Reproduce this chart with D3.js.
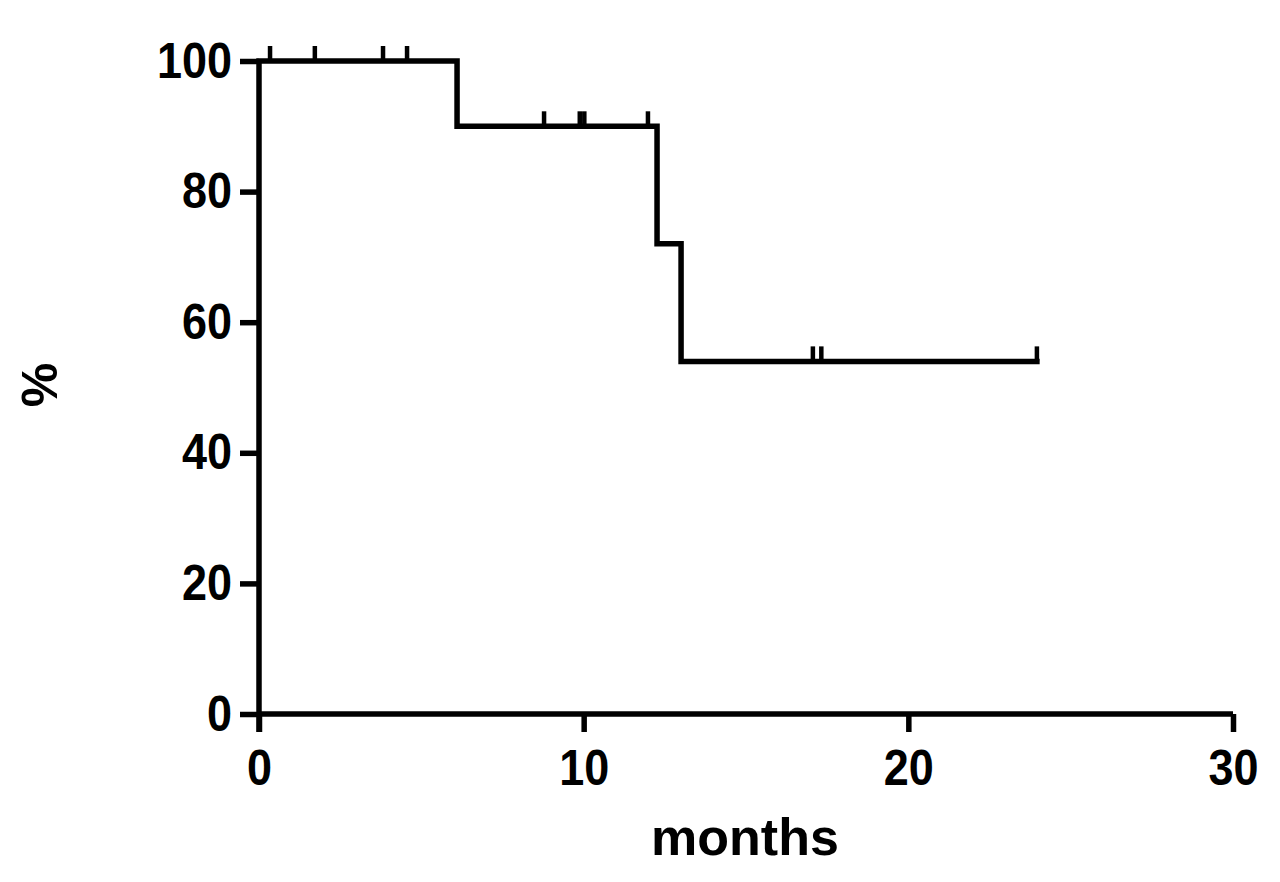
<!DOCTYPE html>
<html><head><meta charset="utf-8">
<script src="https://cdn.jsdelivr.net/npm/d3@7"></script>
<style>body{margin:0;background:#fff}svg{display:block}text{font-family:"Liberation Sans",Arial,sans-serif;font-weight:bold;fill:#000}</style>
</head><body>
<script>
// Kaplan-Meier steps: time (months) and survival (%)
const stepTimes = [0, 6.1, 12.26, 13.0];
const stepValues = [100, 90, 72, 54];
const endTime = 23.96;
// censored observations (months)
const censorTimes = [0.34, 1.72, 3.82, 4.56, 8.78, 9.88, 10.02, 11.98, 17.06, 17.32, 23.96];
const xTicks = [0, 10, 20, 30];
const yTicks = [0, 20, 40, 60, 80, 100];
const xLabel = "months";
const yLabel = "%";

const W = 1280, H = 882;
const svg = d3.select("body").append("svg").attr("width", W).attr("height", H);
const x = d3.scaleLinear().domain([0, 30]).range([259, 1233]);
const y = d3.scaleLinear().domain([0, 100]).range([714, 61]);

function survAt(t){ let v = stepValues[0]; for(let i=0;i<stepTimes.length;i++){ if(t>=stepTimes[i]) v=stepValues[i]; } return v; }

const SW = 5.5;
const tickFont = 45, stretch = 1.1;

// axes
const xAxis = svg.append("g").attr("transform", `translate(0,${y(0)})`)
  .call(d3.axisBottom(x).tickValues(xTicks).tickSize(18).tickSizeOuter(0));
const yAxis = svg.append("g").attr("transform", `translate(${x(0)},0)`)
  .call(d3.axisLeft(y).tickValues(yTicks).tickSize(19).tickSizeOuter(0));
[xAxis, yAxis].forEach(g=>{
  g.select(".domain").attr("stroke","#000").attr("stroke-width",SW);
  g.selectAll(".tick line").attr("stroke","#000").attr("stroke-width",SW);
  g.selectAll(".tick text").attr("font-size",tickFont).attr("font-family","Liberation Sans, Arial, sans-serif").attr("font-weight","bold").attr("fill","#000")
    .attr("x",null).attr("y",null).attr("dy",null);
});
yAxis.select(".domain").attr("d", `M0,${y(100)}V${y(0)+18}`);
xAxis.select(".domain").attr("d", `M${x(0)},0H${x(30)}`);
xAxis.selectAll(".tick text").attr("text-anchor","middle").attr("transform", `translate(0,71) scale(1,${stretch})`);
yAxis.selectAll(".tick text").attr("text-anchor","end").attr("transform", `translate(-27,16) scale(1,${stretch})`);

// step line
const pts = stepTimes.map((t,i)=>[t, stepValues[i]]);
pts.push([endTime, stepValues[stepValues.length-1]]);
const line = d3.line().x(d=>x(d[0])).y(d=>y(d[1])).curve(d3.curveStepAfter);
svg.append("path").datum(pts).attr("d", line).attr("fill","none").attr("stroke","#000").attr("stroke-width",SW).attr("stroke-linejoin","miter").attr("stroke-linecap","square");

// censor ticks
svg.append("g").selectAll("line").data(censorTimes).join("line")
  .attr("x1", d=>x(d)).attr("x2", d=>x(d))
  .attr("y1", d=>y(survAt(d))).attr("y2", d=>y(survAt(d))-15)
  .attr("stroke","#000").attr("stroke-width",4.5);

// labels
svg.append("text").attr("x", 745).attr("y", 855).attr("text-anchor","middle").attr("font-size",52).text(xLabel);
svg.append("text").attr("transform","translate(57,385) rotate(-90)").attr("text-anchor","middle").attr("font-size",50).text(yLabel);
</script>
</body></html>
